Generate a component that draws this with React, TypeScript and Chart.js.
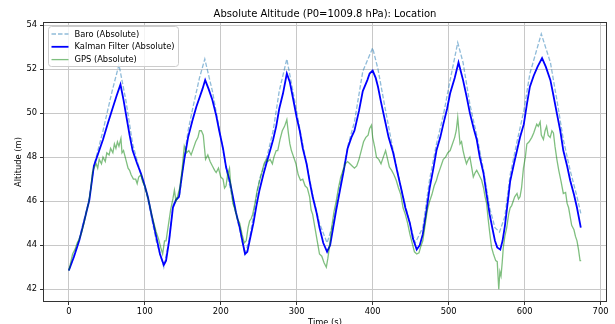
import React, { useEffect, useRef } from 'react';
import { Chart, registerables } from 'chart.js';

Chart.register(...registerables);

const TITLE = 'Absolute Altitude (P0=1009.8 hPa): Location';
const X_LABEL = 'Time (s)';
const Y_LABEL = 'Altitude (m)';
const SERIES_NAMES = ['Baro (Absolute)', 'Kalman Filter (Absolute)', 'GPS (Absolute)'];
const X_TICKS = [0, 100, 200, 300, 400, 500, 600, 700];
const Y_TICKS = [42, 44, 46, 48, 50, 52, 54];

const baroTime = [0, 13, 27, 33, 45, 57, 66, 75, 84, 95, 104, 115, 125, 132, 137, 141, 146, 152, 157, 163, 172, 179, 189, 198, 207, 216, 225, 232, 238, 251, 260, 269, 277, 287, 295, 304, 313, 321, 330, 340, 348, 357, 368, 376, 387, 400, 407, 416, 427, 438, 449, 456, 466, 475, 484, 493, 502, 512, 519, 528, 537, 546, 554, 561, 567, 574, 581, 590, 599, 607, 622, 634, 643, 651, 660, 669, 674];
const baroAlt = [42.85, 44.2, 46.1, 47.6, 49.2, 51.0, 52.2, 50.6, 48.6, 47.2, 46.1, 44.2, 43.0, 44.2, 45.8, 46.1, 46.3, 48.0, 49.2, 50.2, 51.6, 52.46, 51.0, 49.3, 47.5, 46.0, 44.7, 43.6, 44.3, 47.0, 47.9, 49.2, 51.0, 52.46, 51.0, 49.3, 47.7, 46.3, 45.0, 44.1, 45.0, 46.7, 48.6, 49.6, 51.9, 52.96, 52.0, 50.3, 48.3, 46.5, 45.0, 44.1, 44.8, 47.0, 48.6, 49.9, 51.5, 53.2, 52.3, 50.4, 49.0, 47.4, 45.7, 44.8, 44.6, 45.3, 47.2, 48.7, 50.1, 51.8, 53.6, 52.3, 50.5, 48.8, 47.4, 46.2, 45.45];

const kalmanTime = [0, 7, 14, 21, 27, 33, 39, 45, 51, 57, 63, 68, 72, 76, 80, 84, 90, 95, 100, 104, 110, 115, 120, 125, 128, 132, 137, 141, 145, 149, 152, 157, 163, 168, 172, 176, 179.5, 184, 189, 194, 198, 203, 207, 212, 216, 220, 225, 229, 232, 235, 238, 243, 247, 251, 256, 260, 265, 269, 273, 277, 282, 287, 291, 295, 300, 304, 308, 313, 317, 321, 326, 330, 335, 340, 344, 348, 352, 357, 362, 367, 372, 376, 382, 387, 393, 396, 400, 404, 407, 411, 416, 421, 427, 432, 438, 443, 449, 453, 458, 462, 466, 471, 475, 480, 484, 489, 493, 498, 502, 508, 513, 516, 519, 524, 528, 533, 537, 541, 546, 550, 554, 558, 561, 564, 568, 571, 574, 578, 581, 586, 590, 594, 599, 603, 607, 612, 617, 623, 628, 634, 638, 643, 647, 651, 656, 660, 665, 669, 674];
const kalmanAlt = [42.85, 43.5, 44.25, 45.2, 46.05, 47.6, 48.2, 48.8, 49.5, 50.15, 50.8, 51.3, 50.6, 49.8, 49.0, 48.3, 47.7, 47.25, 46.7, 46.2, 45.2, 44.4, 43.6, 43.1, 43.3, 44.2, 45.7, 46.05, 46.2, 47.2, 47.9, 48.9, 49.7, 50.3, 50.7, 51.1, 51.5, 51.1, 50.6, 49.9, 49.2, 48.4, 47.55, 46.9, 46.2, 45.5, 44.8, 44.1, 43.6, 43.7, 44.2, 45.0, 45.8, 46.5, 47.2, 47.7, 48.3, 48.8, 49.4, 50.2, 50.9, 51.8, 51.4, 50.7, 49.8, 49.2, 48.4, 47.7, 46.9, 46.2, 45.5, 44.8, 44.1, 43.7, 44.0, 44.8, 45.6, 46.5, 47.4, 48.4, 48.9, 49.2, 50.1, 51.0, 51.5, 51.8, 51.93, 51.6, 51.2, 50.5, 49.7, 48.9, 48.2, 47.4, 46.5, 45.7, 45.0, 44.3, 43.8, 44.0, 44.5, 45.6, 46.6, 47.5, 48.3, 48.9, 49.5, 50.2, 50.9, 51.6, 52.3, 51.9, 51.5, 50.7, 50.0, 49.3, 48.8, 48.0, 47.25, 46.3, 45.4, 44.7, 44.2, 43.9, 43.8, 44.2, 44.85, 46.0, 46.9, 47.7, 48.3, 48.9, 49.5, 50.4, 51.2, 51.7, 52.1, 52.5, 52.1, 51.5, 50.8, 49.9, 49.2, 48.3, 47.6, 46.95, 46.3, 45.7, 44.8];

const gpsTime = [0, 3, 5, 8, 11, 14, 17, 20, 23, 26, 29, 31, 33, 36, 38, 40, 43, 45, 48, 50, 53, 55, 58, 60, 62, 64, 66, 68.6, 70, 72, 75, 78, 80, 82, 85, 88, 90, 92, 95, 97, 100, 103, 106, 109, 112, 115, 118, 121, 123.5, 126, 128, 131, 134, 137, 139, 141, 143, 146, 149, 152, 155, 158, 161, 164, 167, 170, 172, 174.5, 177, 180, 183, 186, 189, 192, 194, 197, 200, 203, 205, 207, 209, 211.5, 213, 216, 219, 222, 225, 228, 231, 233.5, 236, 238, 240, 242, 245, 248, 251, 254, 257, 260, 262, 265, 268, 270, 273, 275, 278, 281, 284, 287, 289, 291, 293, 296, 299, 302, 305, 308, 311, 314, 317, 319, 321, 324, 327, 330, 333, 336, 339, 341, 343, 346, 349, 352, 355, 358, 361, 364, 367, 370, 373, 376, 379, 382, 385, 388, 391, 394, 396, 398.4, 400, 403, 405, 408, 411, 414, 417, 419, 422, 425, 428, 431, 434, 437, 440, 443, 446, 449, 452, 455, 458, 461, 463, 466, 469, 472, 475, 478, 481, 484, 486, 488, 491, 493, 496, 499, 502, 505, 508, 510, 512, 513.5, 515, 517, 519, 521, 523.5, 526, 528, 530, 532.5, 535, 537, 540, 543.5, 546, 548, 550, 552, 554, 556.5, 559, 562, 564, 566, 567.5, 569, 570.5, 572, 574, 576.5, 579, 581, 583, 585, 587, 590, 592, 594, 596, 598.5, 601, 603, 606, 609.5, 612, 614, 616, 618, 620.5, 622, 624.8, 627, 629, 631, 633.7, 636, 638, 640, 642.5, 645, 648, 651, 654, 656, 658, 660, 662, 665, 667, 669, 671, 673, 674.5];
const gpsAlt = [42.85, 43.3, 43.6, 43.8, 44.1, 44.3, 44.6, 45.0, 45.5, 45.9, 46.6, 47.3, 47.5, 47.7, 47.5, 47.9, 47.7, 48.0, 47.8, 48.2, 48.1, 48.4, 48.2, 48.6, 48.4, 48.7, 48.5, 48.85, 48.2, 48.3, 47.9, 47.5, 47.4, 47.2, 47.0, 47.0, 46.8, 47.1, 47.2, 46.9, 46.7, 46.3, 45.9, 45.4, 45.0, 44.6, 44.3, 43.9, 43.6, 44.2, 44.2, 44.9, 45.6, 46.1, 46.5, 46.0, 46.2, 46.6, 47.4, 48.5, 48.2, 48.3, 48.1, 48.4, 48.7, 48.9, 49.2, 49.2, 49.0, 47.9, 48.1, 47.8, 47.6, 47.4, 47.3, 47.5, 47.1, 47.0, 46.6, 46.7, 47.2, 47.5, 46.8, 45.9, 45.6, 45.2, 45.0, 44.5, 44.1, 44.2, 44.8, 45.1, 45.2, 45.4, 45.9, 46.5, 46.9, 47.3, 47.7, 47.9, 47.8, 47.9, 47.7, 48.0, 48.3, 48.3, 48.8, 49.2, 49.4, 49.7, 49.1, 48.6, 48.3, 48.0, 47.7, 47.2, 46.95, 47.0, 46.7, 46.6, 46.2, 45.6, 45.4, 44.8, 44.2, 43.6, 43.5, 43.2, 43.0, 43.4, 43.9, 44.8, 45.5, 46.0, 46.6, 47.1, 47.4, 47.7, 47.8, 47.7, 47.6, 47.5, 47.6, 47.9, 48.3, 48.7, 48.9, 49.0, 49.3, 49.45, 48.9, 48.4, 48.0, 47.9, 47.7, 48.0, 48.3, 48.0, 47.55, 47.4, 47.2, 46.95, 46.6, 46.3, 45.7, 45.4, 45.0, 44.5, 44.1, 43.7, 43.6, 43.65, 43.9, 44.2, 44.9, 45.6, 46.0, 46.3, 46.7, 46.95, 47.2, 47.4, 47.7, 47.9, 48.0, 48.2, 48.3, 48.6, 48.9, 49.2, 49.8, 49.2, 48.6, 48.7, 48.3, 48.0, 47.7, 47.9, 48.0, 47.6, 47.1, 47.3, 47.4, 47.2, 46.95, 46.6, 46.2, 45.9, 45.2, 44.6, 43.9, 43.6, 43.3, 43.25, 42.0, 42.8, 42.6, 43.2, 43.9, 44.4, 44.8, 45.4, 45.7, 45.8, 46.0, 46.2, 46.35, 46.1, 46.2, 46.6, 47.5, 48.0, 48.6, 48.7, 48.9, 49.1, 49.3, 49.5, 49.4, 49.6, 49.0, 48.8, 49.2, 49.4, 49.0, 48.9, 49.2, 49.1, 48.5, 47.9, 47.4, 46.9, 46.35, 46.4, 45.9, 45.7, 45.3, 44.9, 44.7, 44.4, 44.2, 43.8, 43.3, 43.3];

const toPoints = (t: number[], v: number[]) => t.map((x, i) => ({ x, y: v[i] }));

const FONT = '"DejaVu Sans", Arial, sans-serif';

const BARO_COLOR = 'rgba(31,119,180,0.5)';
const KALMAN_COLOR = '#0000ff';
const GPS_COLOR = 'rgba(0,128,0,0.5)';

const decorPlugin = {
  id: 'decor',
  afterDraw(chart: any) {
    const { ctx, chartArea } = chart;
    const { left, right, top, bottom } = chartArea;
    ctx.save();
    // frame
    ctx.strokeStyle = '#333333';
    ctx.lineWidth = 1;
    ctx.setLineDash([]);
    ctx.strokeRect(left + 0.5, top + 0.5, right - left - 1, bottom - top - 1);
    // title
    ctx.fillStyle = '#000';
    ctx.font = `10px ${FONT}`;
    ctx.textAlign = 'center';
    ctx.textBaseline = 'alphabetic';
    ctx.fillText(TITLE, (left + right) / 2, top - 5);
    // x label
    ctx.font = `8.33px ${FONT}`;
    ctx.textBaseline = 'top';
    ctx.fillText(X_LABEL, (left + right) / 2, bottom + 17);
    // y label
    ctx.save();
    ctx.translate(19, (top + bottom) / 2);
    ctx.rotate(-Math.PI / 2);
    ctx.textBaseline = 'middle';
    ctx.fillText(Y_LABEL, 0, 0);
    ctx.restore();
    // legend
    const bx = left + 5.5;
    const by = top + 4.5;
    const bw = 130;
    const bh = 40;
    const r = 3;
    ctx.beginPath();
    ctx.moveTo(bx + r, by);
    ctx.lineTo(bx + bw - r, by);
    ctx.quadraticCurveTo(bx + bw, by, bx + bw, by + r);
    ctx.lineTo(bx + bw, by + bh - r);
    ctx.quadraticCurveTo(bx + bw, by + bh, bx + bw - r, by + bh);
    ctx.lineTo(bx + r, by + bh);
    ctx.quadraticCurveTo(bx, by + bh, bx, by + bh - r);
    ctx.lineTo(bx, by + r);
    ctx.quadraticCurveTo(bx, by, bx + r, by);
    ctx.closePath();
    ctx.fillStyle = 'rgba(255,255,255,0.8)';
    ctx.fill();
    ctx.strokeStyle = '#cccccc';
    ctx.lineWidth = 1;
    ctx.stroke();
    const styles = [
      { color: BARO_COLOR, width: 1.3, dash: [4.5, 2] },
      { color: KALMAN_COLOR, width: 1.8, dash: [] as number[] },
      { color: GPS_COLOR, width: 1.3, dash: [] as number[] },
    ];
    ctx.font = `8.33px ${FONT}`;
    ctx.textAlign = 'left';
    ctx.textBaseline = 'middle';
    SERIES_NAMES.forEach((name, i) => {
      const y = by + 7.5 + i * 12.8;
      const s = styles[i];
      ctx.beginPath();
      ctx.strokeStyle = s.color;
      ctx.lineWidth = s.width;
      ctx.setLineDash(s.dash);
      ctx.moveTo(bx + 3, y);
      ctx.lineTo(bx + 20, y);
      ctx.stroke();
      ctx.setLineDash([]);
      ctx.fillStyle = '#000';
      ctx.fillText(name, bx + 26, y + 0.5);
    });
    ctx.restore();
  },
};

export default function App() {
  const canvasRef = useRef<HTMLCanvasElement | null>(null);

  useEffect(() => {
    document.body.style.margin = '0';
    const canvas = canvasRef.current;
    if (!canvas) return;
    const chart = new Chart(canvas, {
      type: 'line',
      data: {
        datasets: [
          {
            label: SERIES_NAMES[2],
            data: toPoints(gpsTime, gpsAlt),
            borderColor: GPS_COLOR,
            borderWidth: 1.3,
            pointRadius: 0,
            tension: 0,
            fill: false,
            order: 1,
          },
          {
            label: SERIES_NAMES[1],
            data: toPoints(kalmanTime, kalmanAlt),
            borderColor: KALMAN_COLOR,
            borderWidth: 1.8,
            pointRadius: 0,
            tension: 0,
            fill: false,
            order: 2,
          },
          {
            label: SERIES_NAMES[0],
            data: toPoints(baroTime, baroAlt),
            borderColor: BARO_COLOR,
            borderWidth: 1.3,
            borderDash: [4.5, 2],
            pointRadius: 0,
            tension: 0,
            fill: false,
            order: 3,
          },
        ],
      },
      options: {
        animation: false,
        responsive: false,
        maintainAspectRatio: false,
        devicePixelRatio: 1,
        layout: { padding: { left: 0, right: 8, top: 22, bottom: 0 } },
        plugins: {
          legend: { display: false },
          title: { display: false },
          tooltip: { enabled: false },
        },
        scales: {
          x: {
            type: 'linear',
            min: -34,
            max: 708.5,
            afterBuildTicks: (scale: any) => {
              scale.ticks = X_TICKS.map((v) => ({ value: v }));
            },
            afterFit: (scale: any) => {
              scale.height = 22;
            },
            grid: {
              color: '#c8c8c8',
              lineWidth: 1,
              drawTicks: true,
              tickLength: 3,
              tickColor: '#333',
            },
            border: { display: false },
            ticks: {
              padding: 2,
              color: '#000',
              font: { family: FONT, size: 8.33 },
              maxRotation: 0,
              autoSkip: false,
            },
          },
          y: {
            type: 'linear',
            min: 41.42,
            max: 54.14,
            afterBuildTicks: (scale: any) => {
              scale.ticks = Y_TICKS.map((v) => ({ value: v }));
            },
            afterFit: (scale: any) => {
              scale.width = 43;
            },
            grid: {
              color: '#c8c8c8',
              lineWidth: 1,
              drawTicks: true,
              tickLength: 3,
              tickColor: '#333',
            },
            border: { display: false },
            ticks: {
              padding: 3,
              color: '#000',
              font: { family: FONT, size: 8.33 },
              autoSkip: false,
            },
          },
        },
      },
      plugins: [decorPlugin],
    });
    return () => chart.destroy();
  }, []);

  return (
    <div style={{ width: 615, height: 324 }}>
      <canvas ref={canvasRef} width={615} height={324} style={{ display: 'block' }} />
    </div>
  );
}
